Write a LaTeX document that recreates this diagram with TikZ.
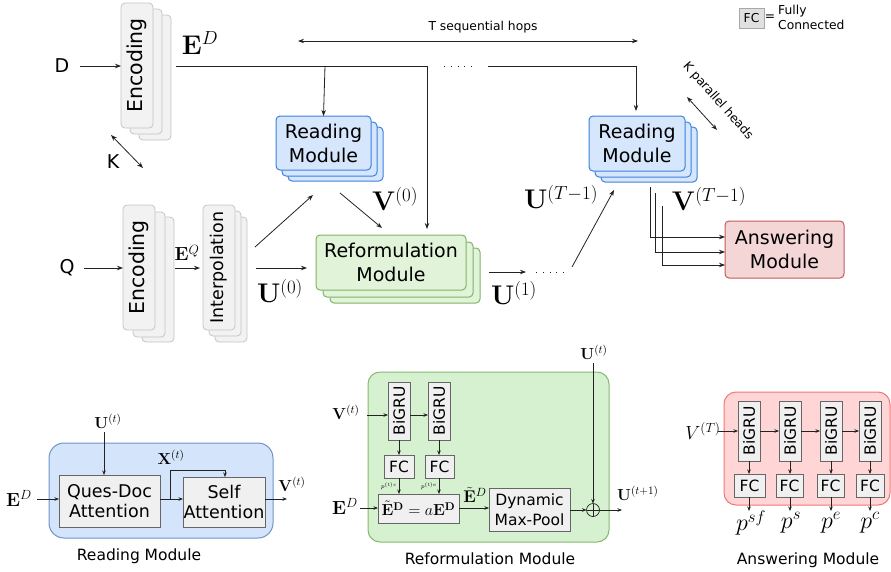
\RequirePackage{fix-cm}
\documentclass[tikz,border=0pt]{standalone}
\usepackage[no-math]{fontspec}
\setmainfont{DejaVu Sans}
\usepackage{amsmath}
\usetikzlibrary{arrows.meta}
\definecolor{linec}{HTML}{222222}
\definecolor{gfill}{HTML}{F2F2F2}
\definecolor{gborder}{HTML}{C4C4C4}
\definecolor{bfill}{HTML}{D6E6FC}
\definecolor{bborder}{HTML}{3C80E0}
\definecolor{grfill}{HTML}{E1F3D8}
\definecolor{grborder}{HTML}{7FB466}
\definecolor{rfill}{HTML}{F5D6D6}
\definecolor{rborder}{HTML}{C55A5A}
\definecolor{bfillb}{HTML}{D4E4FA}
\definecolor{bborderb}{HTML}{7094C8}
\definecolor{gfillb}{HTML}{D6F1D0}
\definecolor{gborderb}{HTML}{86B86E}
\definecolor{rfillb}{HTML}{FFD5D5}
\definecolor{rborderb}{HTML}{EE7777}
\definecolor{ifill}{HTML}{F0F0F0}
\definecolor{iborder}{HTML}{666666}
\definecolor{lfill}{HTML}{E0E0E0}
\definecolor{lborder}{HTML}{A8A8A8}
\newcommand\myL{\fontsize{19}{24}\selectfont}
\newcommand\myE{\fontsize{20.5}{24}\selectfont}
\newcommand\myI{\fontsize{17.5}{20}\selectfont}
\newcommand\myC{\fontsize{15.5}{20}\selectfont}
\newcommand\myS{\fontsize{12.3}{16}\selectfont}
\newcommand\myMB{\fontsize{27}{30}\selectfont}
\newcommand\myMM{\fontsize{19}{22}\selectfont}
\newcommand\myMS{\fontsize{16}{18}\selectfont}
\newcommand\myMT{\fontsize{6}{7}\selectfont}
\newcommand\myP{\fontsize{24}{26}\selectfont}
\tikzset{
  arr/.style={-{Stealth[length=6pt,width=4.5pt]}, line width=0.8pt, draw=linec},
  darr/.style={{Stealth[length=6pt,width=4.5pt]}-{Stealth[length=6pt,width=4.5pt]}, line width=0.8pt, draw=linec},
  sarr/.style={-{Stealth[length=4.5pt,width=3.5pt]}, line width=0.6pt, draw=linec},
  ln/.style={line width=0.8pt, draw=linec},
  base/.style={inner sep=0pt, outer sep=0pt, align=center},
  graybox/.style={base, draw=gborder, fill=gfill, rounded corners=4pt, line width=0.8pt},
  bluebox/.style={base, draw=bborder, fill=bfill, rounded corners=4pt, line width=1pt, font=\myL},
  greenbox/.style={base, draw=grborder, fill=grfill, rounded corners=4pt, line width=1pt, font=\myL},
  redbox/.style={base, draw=rborder, fill=rfill, rounded corners=4pt, line width=1pt, font=\myL},
  innerbox/.style={base, draw=iborder, fill=ifill, line width=0.8pt},
  lbl/.style={inner sep=0pt}
}
\begin{document}
\begin{tikzpicture}[x=1pt,y=-1pt]
\useasboundingbox (0,0) rectangle (891,571);

% ---------- top: encoding D stack ----------
\foreach \s/\t in {18/12, 9/6}
  \node[graybox, minimum width=32, minimum height=125] at (137+\s,65.5+\t) {};
\node[graybox, minimum width=32, minimum height=125] (encD) at (137,65.5) {};
\node[rotate=90, font=\myE] at (encD) {Encoding};
\node[lbl, font=\myL] (D) at (62,66) {D};
\draw[arr] (80,66) -- (encD.west |- D);

\node[lbl, font=\myL] (K) at (113,162) {K};
\coordinate (k1) at (111,135);
\coordinate (k2) at (143,168);
\draw[darr] (k1) -- (k2);

% ---------- encoding Q and interpolation ----------
\foreach \s/\t in {19/12, 10/7}
  \node[graybox, minimum width=32, minimum height=125] at (139+\s,267.5+\t) {};
\node[graybox, minimum width=32, minimum height=125] (encQ) at (139,267.5) {};
\node[rotate=90, font=\myE] at (encQ) {Encoding};
\foreach \s/\t in {12/12, 6/6}
  \node[graybox, minimum width=32, minimum height=125] at (219+\s,267.5+\t) {};
\node[graybox, minimum width=32, minimum height=125] (interp) at (219,267.5) {};
\node[rotate=90, font=\myI] at (interp) {Interpolation};
\node[lbl, font=\myL] (Q) at (67,268) {Q};
\draw[arr] (84,268) -- (encQ.west |- Q);

% ---------- reading module 1 ----------
\foreach \s/\t in {12/11, 6/6}
  \node[bluebox, minimum width=95, minimum height=54] at (323.5+\s,143+\t) {};
\node[bluebox, minimum width=95, minimum height=54] (read1) at (323.5,143) {Reading\\Module};

% ---------- reading module 2 ----------
\foreach \s/\t in {12/11, 6/6}
  \node[bluebox, minimum width=96, minimum height=55] at (637+\s,143.5+\t) {};
\node[bluebox, minimum width=96, minimum height=55] (read2) at (637,143.5) {Reading\\Module};

% ---------- reformulation module ----------
\foreach \s/\t in {14/13, 7/7}
  \node[greenbox, minimum width=150, minimum height=55] at (391+\s,262.5+\t) {};
\node[greenbox, minimum width=150, minimum height=55] (reform) at (391,262.5) {Reformulation\\Module};

% ---------- answering module ----------
\node[redbox, minimum width=119, minimum height=57] (answer) at (784.5,249.5) {Answering\\Module};

% ---------- top connectors ----------
\node[lbl, font=\myMB] (ED) at (200,43) {$\mathbf{E}^D$};
\coordinate (edstart) at (176,66);
\coordinate (edcorner) at (427,66);
\coordinate (edbranch) at (325,66);
\draw[ln] (edstart) -- (edcorner);
\draw[arr] (edcorner) -- (427,229);
\draw[arr] (edbranch) -- (read1.north);
\draw[ln, dash pattern=on 0.8pt off 6pt] (444,66) -- (476,66);
\coordinate (ed2start) at (488,66);
\coordinate (ed2corner) at (636,66);
\draw[ln] (ed2start) -- (ed2corner);
\draw[arr] (ed2corner) -- (636,111);

\node[lbl, font=\myS] (hops) at (483,27) {T sequential hops};
\coordinate (h1) at (298,41);
\coordinate (h2) at (638,41);
\draw[darr] (h1) -- (h2);

% legend
\node[base, draw=lborder, fill=lfill, line width=1pt, minimum width=25, minimum height=20, font=\myS] (fcleg) at (751.5,18) {FC};
\node[lbl, font=\myS] (eqleg) at (770,18) {=};
\node[lbl, font=\myS, anchor=west, align=left] (fctxt) at (778,17.5) {Fully\\[-1pt]Connected};

% K parallel heads
\node[lbl, font=\myS, rotate=-48.5] (kph) at (718,101) {K parallel heads};
\coordinate (kp1) at (687,97);
\coordinate (kp2) at (717,130);
\draw[darr] (kp1) -- (kp2);

% Q path
\draw[arr] (175,268) -- (200,268);
\node[lbl, font=\myMM] (EQ) at (187,253) {$\mathbf{E}^Q$};
\draw[arr] (256,268) -- (307,268);
\node[lbl, font=\myMB] (U0) at (280,291) {$\mathbf{U}^{(0)}$};
\draw[arr] (255,247) -- (313,195);
\draw[arr] (340,193) -- (382,228);
\node[lbl, font=\myMB] (V0) at (395,199) {$\mathbf{V}^{(0)}$};

\draw[arr] (489,272) -- (526,272);
\node[lbl, font=\myMB] (U1) at (514,293) {$\mathbf{U}^{(1)}$};
\draw[ln, dash pattern=on 0.8pt off 6pt] (536,272) -- (566,272);
\draw[arr] (572,267) -- (614,190);
\node[lbl, font=\myMB] (UT) at (561,197) {$\mathbf{U}^{(T-1)}$};

\node[lbl, font=\myMB] (VT) at (709,199) {$\mathbf{V}^{(T-1)}$};
\draw[arr] (650,187) |- (answer.west |- 0,237);
\draw[arr] (655,193) |- (answer.west |- 0,252);
\draw[arr] (662,206) |- (answer.west |- 0,265);

% ================= bottom: reading module detail =================
\node[base, draw=bborderb, fill=bfillb, line width=1pt, rounded corners=15pt, minimum width=224, minimum height=95] (rmc) at (161,490.5) {};
\node[innerbox, minimum width=101, minimum height=52, font=\myI] (qd) at (109.5,501) {Ques-Doc\\Attention};
\node[innerbox, minimum width=82, minimum height=50, font=\myI] (sa) at (224,502) {Self\\Attention};
\node[lbl, font=\myMS] (Ut1) at (108,421) {$\mathbf{U}^{(t)}$};
\draw[sarr] (104,432) -- (qd.north -| 104,0);
\node[lbl, font=\myMM] (ED1) at (19,498) {$\mathbf{E}^D$};
\draw[sarr] (37,499) -- (qd.west |- 0,499);
\draw[sarr] (qd.east |- 0,499) -- (sa.west |- 0,499);
\coordinate (xb) at (170,499);
\draw[sarr] (xb) -- (170,470) -- (225,470) -- (sa.north -| 225,0);
\node[lbl, font=\myMS] (Xt) at (171,457) {$\mathbf{X}^{(t)}$};
\draw[sarr] (sa.east |- 0,499) -- (287,499);
\node[lbl, font=\myMS] (Vt1) at (292,484) {$\mathbf{V}^{(t)}$};
\node[lbl, font=\myC] (cap1) at (139,556) {Reading Module};

% ================= bottom: reformulation detail =================
\node[base, draw=gborderb, fill=gfillb, line width=1pt, rounded corners=12pt, minimum width=241, minimum height=170] (rfc) at (488.5,457) {};
\node[innerbox, minimum width=22, minimum height=58] (bg1) at (399,411) {};
\node[rotate=90, font=\myC] at (bg1) {BiGRU};
\node[innerbox, minimum width=22, minimum height=58] (bg2) at (439,411) {};
\node[rotate=90, font=\myC] at (bg2) {BiGRU};
\node[innerbox, minimum width=30, minimum height=23, font=\myC] (fc1) at (399,466.5) {FC};
\node[innerbox, minimum width=29, minimum height=23, font=\myC] (fc2) at (439.5,466.5) {FC};
\node[innerbox, minimum width=81, minimum height=29, font=\myMS] (etb) at (418.5,508.5) {$\tilde{\mathbf{E}}^{\mathbf{D}}=a\mathbf{E}^{\mathbf{D}}$};
\node[innerbox, minimum width=81, minimum height=43, font=\myC] (dyn) at (529.5,509.5) {Dynamic\\Max-Pool};
\node[draw=linec, line width=0.7pt, circle, minimum size=13, inner sep=0pt, outer sep=0pt] (op) at (593,510) {};
\draw[line width=0.7pt, linec] (op.north) -- (op.south) (op.west) -- (op.east);
\node[lbl, font=\myMS] (Vt2) at (346,412) {$\mathbf{V}^{(t)}$};
\draw[sarr] (367,415) -- (bg1.west |- 0,415);
\draw[sarr] (bg1.east |- 0,415) -- (bg2.west |- 0,415);
\draw[sarr] (bg1) -- (fc1);
\draw[sarr] (bg2.south) -- (fc2.north -| bg2.south);
\draw[sarr] (fc1.south) -- (etb.north -| fc1.south);
\draw[sarr] (fc2.south -| bg2.south) -- (etb.north -| bg2.south);
\node[lbl, font=\myMT, anchor=east] (ps) at (397,486) {$p^{(t)s}$};
\node[lbl, font=\myMT, anchor=east] (pe) at (437,486) {$p^{(t)e}$};
\node[lbl, font=\myMM] (ED2) at (345,506) {$\mathbf{E}^D$};
\draw[sarr] (360,508) -- (etb.west |- 0,508);
\draw[sarr] (etb.east |- 0,508) -- (dyn.west |- 0,508);
\node[lbl, font=\fontsize{17}{19}\selectfont] (Etl) at (475,495) {$\tilde{\mathbf{E}}^D$};
\draw[sarr] (dyn.east |- op) -- (op.west);
\node[lbl, font=\myMS] (Ut2) at (594,352) {$\mathbf{U}^{(t)}$};
\draw[sarr] (593,363) -- (op.north);
\draw[sarr] (op.east) -- (622,510);
\node[lbl, font=\myMS, anchor=west] (Ut3) at (617,493) {$\mathbf{U}^{(t+1)}$};
\node[lbl, font=\myC] (cap2) at (490,559) {Reformulation Module};

% ================= bottom: answering detail =================
\node[base, draw=rborderb, fill=rfillb, line width=1pt, rounded corners=12pt, minimum width=166, minimum height=113] (amc) at (807,448.5) {};
\foreach \n/\x/\fx/\fw in {a/749/749.5/31, b/790/789.5/27, c/831/830.5/27, d/870/870/28} {
  \node[innerbox, minimum width=22, minimum height=60] (bg\n) at (\x,431) {};
  \node[rotate=90, font=\myC] at (bg\n) {BiGRU};
  \node[innerbox, minimum width=\fw, minimum height=23, font=\myC] (fc\n) at (\fx,485.5) {FC};
  \draw[sarr] (bg\n.south) -- (fc\n.north -| bg\n.south);
}
\node[lbl, font=\myMM] (VTa) at (703,431) {$V^{(T)}$};
\draw[sarr] (718,431) -- (bga.west);
\draw[sarr] (bga.east) -- (bgb.west);
\draw[sarr] (bgb.east) -- (bgc.west);
\draw[sarr] (bgc.east) -- (bgd.west);
\node[lbl, font=\myP] (psf) at (751,523) {$p^{sf}$};
\node[lbl, font=\myP] (pss) at (791,523) {$p^{s}$};
\node[lbl, font=\myP] (pee) at (831,523) {$p^{e}$};
\node[lbl, font=\myP] (pcc) at (870,523) {$p^{c}$};
\draw[sarr] (fca.south -| bga.south) -- (749,511);
\draw[sarr] (fcb.south -| bgb.south) -- (790,511);
\draw[sarr] (fcc.south -| bgc.south) -- (831,511);
\draw[sarr] (fcd.south -| bgd.south) -- (870,511);
\node[lbl, font=\myC] (cap3) at (808,560) {Answering Module};
\end{tikzpicture}
\end{document}
